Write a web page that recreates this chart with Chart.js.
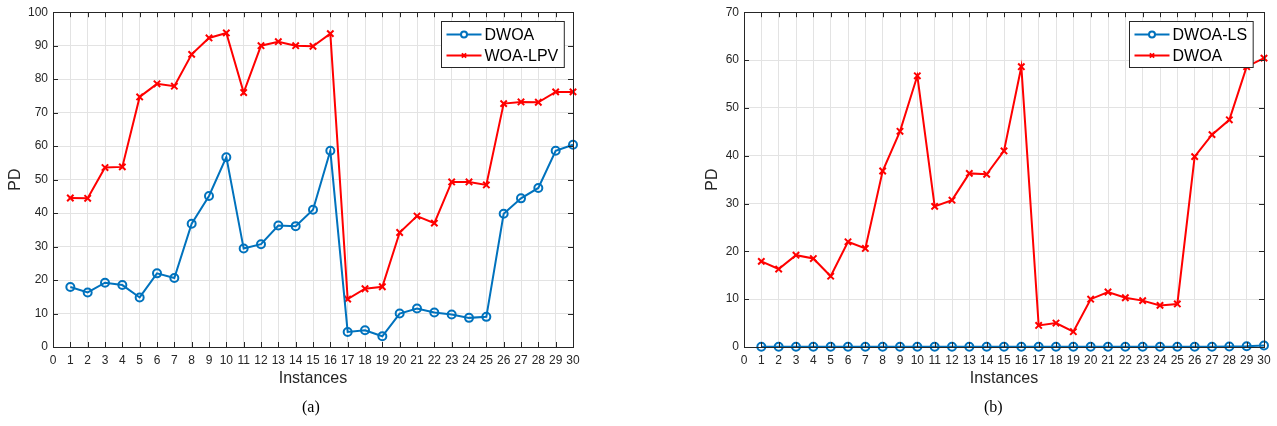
<!DOCTYPE html>
<html>
<head>
<meta charset="utf-8">
<script src="https://cdn.jsdelivr.net/npm/chart.js@4/dist/chart.umd.min.js"></script>
<style>
  body { margin: 0; background: #fff; width: 1277px; height: 426px; position: relative; overflow: hidden; }
  .wrap { position: absolute; top: 0; height: 426px; }
  .cap { position: absolute; top: 398px; font: 16px "Liberation Serif", "Times New Roman", serif; color: #000; }
</style>
</head>
<body>
<div class="wrap" style="left:0;width:600px"><canvas id="chartA"></canvas></div>
<div class="wrap" style="left:690px;width:587px"><canvas id="chartB"></canvas></div>
<div class="cap" style="left:302px">(a)</div>
<div class="cap" style="left:984px">(b)</div>
<script>
/* Datos */
const instances = [1, 2, 3, 4, 5, 6, 7, 8, 9, 10, 11, 12, 13, 14, 15, 16, 17, 18, 19, 20, 21, 22, 23, 24, 25, 26, 27, 28, 29, 30];
const dwoa = [17.9, 16.3, 19.2, 18.5, 14.8, 22.0, 20.6, 36.8, 45.1, 56.7, 29.4, 30.7, 36.3, 36.1, 41.0, 58.6, 4.5, 5.0, 3.2, 10.0, 11.5, 10.3, 9.7, 8.7, 9.0, 39.8, 44.4, 47.5, 58.6, 60.4];
const woaLpv = [44.5, 44.4, 53.6, 53.8, 74.7, 78.6, 77.9, 87.4, 92.3, 93.8, 76.0, 90.0, 91.2, 90.0, 89.8, 93.6, 14.3, 17.4, 18.0, 34.2, 39.1, 37.0, 49.3, 49.3, 48.4, 72.7, 73.2, 73.1, 76.2, 76.2];
const dwoaLs = [0.05, 0.05, 0.05, 0.05, 0.05, 0.05, 0.05, 0.05, 0.05, 0.05, 0.05, 0.05, 0.05, 0.05, 0.05, 0.05, 0.05, 0.05, 0.05, 0.05, 0.05, 0.05, 0.05, 0.05, 0.05, 0.05, 0.05, 0.1, 0.15, 0.3];
const xMin = 0, xMax = 30;
const yMaxA = 100, yMaxB = 70;

const blue = "#0072BD";
const red = "#FF0000";
const axisColor = "#262626";
const gridColor = "#e3e3e3";
const sans = "'Liberation Sans', Arial, Helvetica, sans-serif";

const toPoints = (vals) => instances.map((x, i) => ({ x: x, y: vals[i] }));

const serie = (label, vals, color, marker) => ({
  label: label,
  data: toPoints(vals),
  borderColor: color,
  backgroundColor: marker === "circle" ? "rgba(0,0,0,0)" : color,
  borderWidth: 2,
  pointStyle: marker,
  pointRadius: marker === "circle" ? 4 : 4.5,
  pointBorderWidth: 2,
  pointBorderColor: color,
  pointBackgroundColor: marker === "circle" ? "rgba(0,0,0,0)" : color,
  tension: 0,
  clip: false,
});

/* Caja, marcas hacia adentro y leyenda al estilo MATLAB */
const matlabBox = {
  id: "matlabBox",
  afterDatasetsDraw(chart) {
    const { ctx, chartArea: a, scales } = chart;
    ctx.save();
    ctx.strokeStyle = axisColor;
    ctx.lineWidth = 1;
    ctx.beginPath();
    scales.x.ticks.forEach((t) => {
      const px = Math.round(scales.x.getPixelForValue(t.value)) + 0.5;
      ctx.moveTo(px, a.bottom); ctx.lineTo(px, a.bottom - 5);
      ctx.moveTo(px, a.top); ctx.lineTo(px, a.top + 5);
    });
    scales.y.ticks.forEach((t) => {
      const py = Math.round(scales.y.getPixelForValue(t.value)) + 0.5;
      ctx.moveTo(a.left, py); ctx.lineTo(a.left + 5, py);
      ctx.moveTo(a.right, py); ctx.lineTo(a.right - 5, py);
    });
    ctx.stroke();
    ctx.strokeRect(Math.round(a.left) + 0.5, Math.round(a.top) + 0.5, Math.round(a.right - a.left), Math.round(a.bottom - a.top));

    // leyenda
    const opts = chart.options.plugins.matlabBox;
    ctx.font = "16px " + sans;
    const texts = chart.data.datasets.map((d) => d.label);
    const tw = Math.max(...texts.map((t) => ctx.measureText(t).width));
    const w = 43 + tw + 6;
    const h = 46;
    const x0 = Math.round(a.right - opts.offset - w) + 0.5;
    const y0 = Math.round(a.top + 9) + 0.5;
    ctx.fillStyle = "#fff";
    ctx.fillRect(x0, y0, w, h);
    ctx.strokeStyle = axisColor;
    ctx.strokeRect(x0, y0, w, h);
    chart.data.datasets.forEach((d, i) => {
      const cy = y0 + 13 + i * 21;
      ctx.strokeStyle = d.borderColor;
      ctx.lineWidth = 2;
      ctx.beginPath();
      ctx.moveTo(x0 + 5, cy); ctx.lineTo(x0 + 40, cy);
      ctx.stroke();
      Chart.helpers.drawPoint(ctx, {
        pointStyle: d.pointStyle, radius: 3, borderWidth: 2, rotation: 0,
      }, x0 + 22.5, cy);
      ctx.fillStyle = "#000";
      ctx.textBaseline = "middle";
      ctx.fillText(d.label, x0 + 43, cy + 1);
    });
    ctx.restore();
  },
};

const buildConfig = (datasets, yMax, yAxisWidth, titlePad, legendOffset) => ({
  type: "line",
  data: { datasets: datasets },
  options: {
    responsive: false,
    animation: false,
    layout: { padding: { top: 11, right: 0, left: 0, bottom: 0 } },
    plugins: {
      legend: { display: false },
      tooltip: { enabled: false },
      matlabBox: { offset: legendOffset },
    },
    scales: {
      x: {
        type: "linear",
        min: xMin,
        max: xMax,
        afterFit: (s) => { s.height = 79; },
        ticks: { stepSize: 1, autoSkip: false, maxRotation: 0, padding: 6, color: axisColor, font: { family: sans, size: 12 } },
        grid: { color: gridColor, drawTicks: false },
        border: { display: false },
        title: { display: true, text: "Instances", color: axisColor, font: { family: sans, size: 16 }, padding: { top: 38, bottom: 38 } },
      },
      y: {
        min: 0,
        max: yMax,
        afterFit: (s) => { s.width = yAxisWidth; },
        ticks: { stepSize: 10, padding: 5, color: axisColor, font: { family: sans, size: 12 } },
        grid: { color: gridColor, drawTicks: false },
        border: { display: false },
        title: { display: true, text: "PD", color: axisColor, font: { family: sans, size: 16 }, padding: { top: titlePad, bottom: titlePad } },
      },
    },
  },
  plugins: [matlabBox],
});

const setSize = (id, w) => {
  const c = document.getElementById(id);
  c.width = w; c.height = 426;
  c.style.width = w + "px"; c.style.height = "426px";
  return c;
};

const chartA = new Chart(setSize("chartA", 600), (() => {
  const cfg = buildConfig([
    serie("DWOA", dwoa, blue, "circle"),
    serie("WOA-LPV", woaLpv, red, "crossRot"),
  ], yMaxA, 53, 6, 9);
  cfg.options.layout.padding.right = 27;
  return cfg;
})());

const chartB = new Chart(setSize("chartB", 587), (() => {
  const cfg = buildConfig([
    serie("DWOA-LS", dwoaLs, blue, "circle"),
    serie("DWOA", dwoa, red, "crossRot"),
  ], yMaxB, 54, 13, 11);
  cfg.options.layout.padding.right = 13;
  return cfg;
})());
</script>
</body>
</html>
